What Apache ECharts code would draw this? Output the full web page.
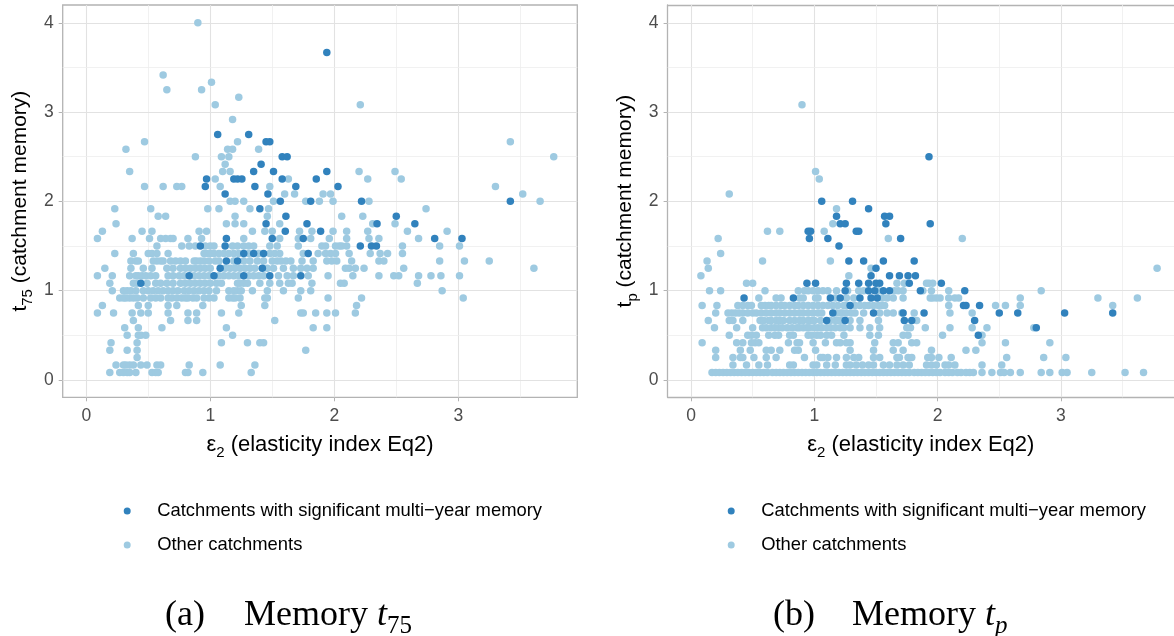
<!DOCTYPE html>
<html><head><meta charset="utf-8">
<script src="https://cdn.jsdelivr.net/npm/echarts@6/dist/echarts.min.js"></script>
<style>html,body{margin:0;padding:0;background:#fff}#c{width:1174px;height:636px}</style>
</head><body><div id="c"></div>
<script>
const SIG_NAME = 'Catchments with significant multi\u2212year memory';
const OTHER_NAME = 'Other catchments';
const xTicks = [0, 1, 2, 3];
const yTicks = [0, 1, 2, 3, 4];
const xMinor = [0.5, 1.5, 2.5, 3.5];
const yMinor = [0.5, 1.5, 2.5, 3.5];

// rows: [memory in months, [elasticity values]]; memory (years) = months / 12
const leftSigRows = [
  [13,[0.44]],
  [14,[0.83,1.03,1.27,1.48,1.73]],
  [15,[1.08,1.42]],
  [16,[1.13,1.22]],
  [17,[1.27,1.35,1.43,1.79]],
  [18,[0.92,1.12,2.21,2.30,2.34]],
  [19,[1.13,1.50,1.75,2.81,3.03]],
  [20,[1.605,1.89]],
  [21,[1.45,1.78,2.345,2.65]],
  [22,[1.61,2.50]],
  [23,[1.40]],
  [24,[1.565,1.81,2.22,3.42]],
  [25,[1.12,1.465]],
  [26,[0.96,1.36,1.69,2.03]],
  [27,[0.97,1.19,1.22,1.255,1.58,1.855]],
  [28,[1.35,1.51,1.94]],
  [29,[1.41]],
  [30,[1.58,1.62]],
  [32,[1.45,1.48]],
  [33,[1.06,1.31]],
  [44,[1.94]]
];
const leftOtherRows = [
  [1,[0.19,0.27,0.30,0.33,0.35,0.40,0.53,0.56,0.58,0.80,0.82,0.94,1.33]],
  [2,[0.24,0.30,0.32,0.35,0.38,0.44,0.49,0.57,0.60,0.83,1.08,1.36]],
  [3,[0.41]],
  [4,[0.19,0.33,0.41,1.77]],
  [5,[0.20,0.41,1.09,1.30,1.40,1.43]],
  [6,[0.33,0.42,0.44,0.48,1.18]],
  [7,[0.31,0.42,0.61,1.13,1.83,1.94]],
  [8,[0.38,0.68,0.82,0.89,1.52]],
  [9,[0.09,0.22,0.37,0.44,0.50,0.66,0.82,0.89,1.09,1.23,1.73,1.75,1.85,1.94,2.01,2.17]],
  [10,[0.13,0.42,0.50,0.66,0.73,0.94,1.25,1.44,2.18]],
  [11,[0.27,0.30,0.32,0.35,0.38,0.41,0.46,0.52,0.56,0.60,0.66,0.69,0.73,0.77,0.80,0.82,0.86,0.89,0.95,0.99,1.03,1.15,1.18,1.20,1.24,1.44,1.46,1.71,1.95,2.22,3.04]],
  [12,[0.21,0.30,0.33,0.36,0.40,0.46,0.50,0.54,0.58,0.62,0.66,0.70,0.74,0.79,0.83,0.87,0.91,0.95,0.99,1.05,1.15,1.19,1.22,1.25,1.34,1.46,1.59,1.73,1.81,2.87]],
  [13,[0.19,0.38,0.41,0.49,0.56,0.60,0.65,0.70,0.76,0.80,0.84,0.88,0.92,0.96,1.00,1.05,1.09,1.22,1.24,1.27,1.30,1.40,1.48,1.56,1.63,1.66,1.82,2.05,2.08,2.67]],
  [14,[0.09,0.21,0.35,0.40,0.42,0.45,0.48,0.52,0.56,0.66,0.70,0.75,0.79,0.87,0.91,0.95,0.99,1.07,1.11,1.15,1.19,1.23,1.31,1.35,1.39,1.43,1.55,1.62,1.67,1.79,1.95,2.15,2.36,2.48,2.52,2.68,2.78,2.86,3.01]],
  [15,[0.15,0.36,0.46,0.53,0.65,0.70,0.76,0.80,0.84,0.88,0.92,0.96,1.00,1.12,1.16,1.20,1.24,1.28,1.32,1.36,1.46,1.51,1.59,1.67,1.73,1.78,1.83,2.09,2.12,2.17,2.24,2.56,3.61]],
  [16,[0.36,0.40,0.42,0.54,0.57,0.60,0.62,0.68,0.72,0.76,0.80,0.87,0.89,0.92,0.95,0.99,1.04,1.07,1.19,1.27,1.32,1.38,1.43,1.50,1.54,1.57,1.61,1.65,1.74,1.83,1.94,1.98,2.02,2.14,2.36,2.40,2.85,3.05,3.25]],
  [17,[0.23,0.38,0.50,0.53,0.57,0.66,0.95,0.97,1.00,1.03,1.07,1.11,1.15,1.19,1.23,1.31,1.39,1.48,1.52,1.56,1.75,1.87,1.93,1.97,2.01,2.12,2.29,2.37,2.43,2.55]],
  [18,[0.57,0.77,0.83,0.88,0.96,1.00,1.03,1.18,1.22,1.27,1.31,1.35,1.48,1.54,1.71,1.90,1.93,2.01,2.04,2.06,2.10,2.55,2.85,3.01]],
  [19,[0.09,0.37,0.51,0.60,0.64,0.68,0.70,0.82,0.93,1.27,1.56,1.71,1.81,1.96,2.10,2.28,2.36,2.68]],
  [20,[0.13,0.45,0.53,0.91,0.97,1.34,1.44,1.50,1.72,1.82,1.99,2.10,2.27,2.59,2.91]],
  [21,[0.24,1.13,1.20,1.27,1.56,2.31,2.49]],
  [22,[0.58,0.64,1.20,1.46,2.06,2.23]],
  [23,[0.23,0.52,0.98,1.07,1.32,1.47,2.74]],
  [24,[1.16,1.20,1.27,1.51,1.77,1.88,1.99,2.28,3.66]],
  [25,[1.60,1.68,1.91,1.97,3.52]],
  [26,[0.47,0.62,0.73,0.77,1.08,1.48,3.30]],
  [27,[1.04,1.63,2.27,2.54]],
  [28,[0.35,1.10,1.16,2.20,2.49]],
  [29,[1.12]],
  [30,[0.88,1.09,1.15,3.77]],
  [31,[0.32,1.14,1.18,1.39]],
  [32,[0.47,1.22,3.42]],
  [35,[1.18]],
  [37,[1.04,2.21]],
  [38,[1.23]],
  [39,[0.65,0.93]],
  [40,[1.01]],
  [41,[0.62]],
  [48,[0.90]]
];
const rightSigRows = [
  [6,[2.33]],
  [7,[2.80]],
  [8,[1.10,1.25,1.73,1.79,2.30]],
  [9,[1.15,1.48,1.72,1.89,2.50,2.65,3.03,3.42]],
  [10,[1.29,2.21,2.23,2.34]],
  [11,[0.43,0.83,1.13,1.21,1.37,1.46,1.51]],
  [12,[1.25,1.44,1.49,1.56,1.61,1.86,2.22]],
  [13,[0.94,1.01,1.26,1.36,1.44,1.50,1.53,1.77,2.03]],
  [14,[1.46,1.61,1.69,1.76,1.82]],
  [15,[1.50]],
  [16,[1.28,1.40,1.56,1.81]],
  [18,[1.20]],
  [19,[0.96,1.11,1.70]],
  [20,[0.95,0.97,1.34,1.36]],
  [21,[1.21,1.25,1.58,1.94]],
  [22,[1.18,1.57,1.61]],
  [23,[1.44]],
  [24,[1.06,1.31]],
  [30,[1.93]]
];
const rightOtherRows = [
  [1,[0.17,0.20,0.23,0.26,0.29,0.32,0.35,0.38,0.41,0.44,0.47,0.50,0.53,0.56,0.59,0.62,0.66,0.69,0.72,0.75,0.78,0.81,0.84,0.87,0.90,0.93,0.96,0.99,1.02,1.05,1.08,1.11,1.14,1.17,1.20,1.23,1.26,1.29,1.32,1.35,1.38,1.41,1.44,1.47,1.50,1.53,1.56,1.59,1.62,1.65,1.68,1.71,1.74,1.77,1.81,1.84,1.87,1.90,1.93,1.96,1.99,2.02,2.06,2.09,2.12,2.16,2.19,2.23,2.26,2.29,2.36,2.44,2.51,2.54,2.59,2.67,2.84,2.91,3.01,3.05,3.25,3.52,3.67]],
  [2,[0.34,0.45,0.55,0.62,0.80,0.83,0.99,1.02,1.10,1.17,1.26,1.29,1.34,1.39,1.44,1.48,1.56,1.61,1.67,1.72,1.77,1.91,1.95,1.99,2.06,2.09,2.14,2.36,2.52]],
  [3,[0.20,0.34,0.40,0.42,0.51,0.61,0.69,0.92,1.05,1.07,1.11,1.18,1.26,1.32,1.36,1.48,1.53,1.67,1.69,1.76,1.79,1.92,1.95,2.01,2.11,2.56,2.86,3.04]],
  [4,[0.20,0.40,0.48,0.61,0.65,0.72,0.84,0.87,1.01,1.29,1.48,1.64,1.72,1.95,2.23,2.31]],
  [5,[0.09,0.37,0.42,0.49,0.52,0.55,0.79,0.86,0.88,0.99,1.09,1.18,1.21,1.26,1.29,1.49,1.64,1.68,1.79,1.83,2.36,2.55,2.91]],
  [6,[0.31,0.46,0.49,0.53,0.63,0.68,0.71,0.80,0.83,0.95,0.98,1.02,1.05,1.10,1.14,1.24,1.45,1.52,1.72,1.76,2.04,2.36]],
  [7,[0.19,0.37,0.50,0.58,0.61,0.65,0.68,0.71,0.74,0.78,0.82,0.86,0.88,0.91,0.94,0.96,1.00,1.03,1.06,1.10,1.13,1.17,1.21,1.24,1.29,1.37,1.45,1.53,1.75,1.78,1.90,2.10,2.28,2.40,2.78]],
  [8,[0.14,0.31,0.34,0.42,0.56,0.59,0.63,0.65,0.69,0.72,0.75,0.80,0.84,0.88,0.91,0.95,0.98,1.00,1.05,1.13,1.17,1.19,1.22,1.29,1.37,1.52,1.83]],
  [9,[0.20,0.30,0.33,0.36,0.39,0.42,0.46,0.50,0.53,0.57,0.61,0.65,0.69,0.72,0.76,0.80,0.84,0.88,0.91,0.95,0.99,1.03,1.06,1.18,1.21,1.23,1.26,1.30,1.33,1.40,1.53,1.59,1.64,1.71,1.81,2.10,2.28]],
  [10,[0.09,0.21,0.38,0.42,0.46,0.49,0.57,0.60,0.63,0.65,0.69,0.73,0.76,0.80,0.84,0.87,0.91,0.95,0.99,1.03,1.07,1.11,1.15,1.19,1.24,1.26,1.33,1.37,1.41,1.44,1.48,1.52,1.55,1.57,2.09,2.47,2.55,2.67,3.42]],
  [11,[0.55,0.69,0.73,0.88,0.91,1.01,1.03,1.17,1.26,1.32,1.55,1.59,1.64,1.72,1.94,1.96,1.99,2.02,2.09,2.14,2.17,2.67,3.30,3.62]],
  [12,[0.15,0.24,0.60,0.87,0.92,0.95,0.99,1.03,1.07,1.11,1.18,1.27,1.36,1.40,1.52,1.65,1.68,1.72,1.88,1.95,2.09,2.84]],
  [13,[0.45,0.50,1.67,1.73,1.91,1.93,1.96]],
  [14,[0.08,1.28]],
  [15,[0.14,1.46,3.78]],
  [16,[0.13,0.58,1.13]],
  [17,[0.24]],
  [19,[0.22,1.60,2.20]],
  [20,[0.62,0.72,1.08]],
  [21,[1.15]],
  [23,[1.18]],
  [25,[0.31]],
  [27,[1.04]],
  [28,[1.01]],
  [37,[0.90]]
];

function toPoints(rows) {
  const out = [];
  rows.forEach(([m, xs]) => xs.forEach(x => out.push([x, m / 12])));
  return out;
}

const SANS = 'Liberation Sans';
const SERIF = 'Liberation Serif';
const BORDER = '#B3B3B3';
const majorLine = { color: '#E2E2E2', width: 1.1, type: 'solid' };
const minorLine = { color: '#EEEEEE', width: 0.8, type: 'solid' };
const gridMarks = {
  silent: true, symbol: 'none', z: 1, animation: false,
  label: { show: false }, emphasis: { disabled: true },
  data: [].concat(
    xTicks.map(v => ({ xAxis: v, lineStyle: majorLine })),
    xMinor.map(v => ({ xAxis: v, lineStyle: minorLine })),
    yTicks.map(v => ({ yAxis: v, lineStyle: majorLine })),
    yMinor.map(v => ({ yAxis: v, lineStyle: minorLine }))
  )
};

const subRich = {
  s: { fontSize: 15, lineHeight: 15, verticalAlign: 'bottom', fontFamily: SANS, color: '#000' }
};
function xAxisCfg(gi, max, showLine) {
  return {
    type: 'value', gridIndex: gi, min: -0.19, max: max,
    axisLine: { show: showLine, onZero: false, lineStyle: { color: BORDER, width: 1.3 } },
    splitLine: { show: false },
    axisTick: { show: true, customValues: xTicks, length: 4, lineStyle: { color: BORDER, width: 1 } },
    axisLabel: { customValues: xTicks, color: '#4D4D4D', fontSize: 17.5, fontFamily: SANS, margin: 10 },
    name: 'ε{s|2} (elasticity index Eq2)', nameLocation: 'middle', nameGap: 27,
    nameTextStyle: { fontSize: 22, lineHeight: 30, fontFamily: SANS, color: '#000', rich: subRich }
  };
}
function yAxisCfg(gi, name, showLine) {
  return {
    type: 'value', gridIndex: gi, min: -0.195, max: 4.2,
    axisLine: { show: showLine, onZero: false, lineStyle: { color: BORDER, width: 1.3 } },
    splitLine: { show: false },
    axisTick: { show: true, customValues: yTicks, length: 4, lineStyle: { color: BORDER, width: 1 } },
    axisLabel: { customValues: yTicks, color: '#4D4D4D', fontSize: 17.5, fontFamily: SANS, margin: 9 },
    name: name, nameLocation: 'middle', nameGap: 27,
    nameTextStyle: { fontSize: 21, lineHeight: 30, fontFamily: SANS, color: '#000', rich: subRich }
  };
}
function scatter(gi, name, rows, color, z, marks) {
  const s = {
    type: 'scatter', name: name, xAxisIndex: gi, yAxisIndex: gi,
    data: toPoints(rows), symbol: 'circle', symbolSize: 7.5, z: z,
    itemStyle: { color: color, opacity: 1 }, emphasis: { disabled: true }
  };
  if (marks) s.markLine = marks;
  return s;
}
function legendCfg(left) {
  return {
    orient: 'vertical', left: left, top: 497, itemWidth: 50, itemHeight: 7, itemGap: 16,
    icon: 'circle', selectedMode: false,
    textStyle: { fontSize: 18.4, color: '#000', fontFamily: SANS },
    data: [SIG_NAME, OTHER_NAME]
  };
}
const capRich = {
  m: { fontSize: 36, lineHeight: 46, fontFamily: SERIF, color: '#000' },
  i: { fontSize: 36, lineHeight: 46, fontFamily: SERIF, fontStyle: 'italic', color: '#000' },
  s: { fontSize: 25, lineHeight: 25, fontFamily: SERIF, verticalAlign: 'bottom', color: '#000' },
  si: { fontSize: 25, lineHeight: 25, fontFamily: SERIF, fontStyle: 'italic', verticalAlign: 'bottom', color: '#000' }
};

// right panel continues past the page edge at the same scale (123.3 px per unit)
const rightMax = -0.19 + (1174 - 667.6) / 123.3;

const chart = echarts.init(document.getElementById('c'), null, { renderer: 'canvas' });
chart.setOption({
  animation: false,
  backgroundColor: '#fff',
  grid: [
    { left: 62.7, top: 5, width: 514.6, height: 392.3, show: true, borderColor: BORDER, borderWidth: 1.3, backgroundColor: 'transparent' },
    { left: 667.6, top: 5, width: 1174 - 667.6, height: 392.3, show: false }
  ],
  xAxis: [
    xAxisCfg(0, 3.96, false),
    xAxisCfg(1, rightMax, true),
    { type: 'value', gridIndex: 1, position: 'top', min: -0.19, max: rightMax,
      axisLine: { show: true, onZero: false, lineStyle: { color: BORDER, width: 1.3 } },
      axisTick: { show: false }, axisLabel: { show: false }, splitLine: { show: false } }
  ],
  yAxis: [
    yAxisCfg(0, 't{s|75} (catchment memory)', false),
    yAxisCfg(1, 't{s|p} (catchment memory)', true)
  ],
  legend: [legendCfg(118.7), legendCfg(722.7)],
  series: [
    scatter(0, OTHER_NAME, leftOtherRows, '#9ECAE1', 3, gridMarks),
    scatter(0, SIG_NAME, leftSigRows, '#3182BD', 4),
    scatter(1, OTHER_NAME, rightOtherRows, '#9ECAE1', 3, gridMarks),
    scatter(1, SIG_NAME, rightSigRows, '#3182BD', 4)
  ],
  graphic: [
    { type: 'text', left: 165, top: 598, style: { text: '{m|(a)}', rich: capRich } },
    { type: 'text', left: 244, top: 598, style: { text: '{m|Memory }{i|t}{s|75}', rich: capRich } },
    { type: 'text', left: 773, top: 598, style: { text: '{m|(b)}', rich: capRich } },
    { type: 'text', left: 852, top: 598, style: { text: '{m|Memory }{i|t}{si|p}', rich: capRich } }
  ]
});
</script>
</body></html>
